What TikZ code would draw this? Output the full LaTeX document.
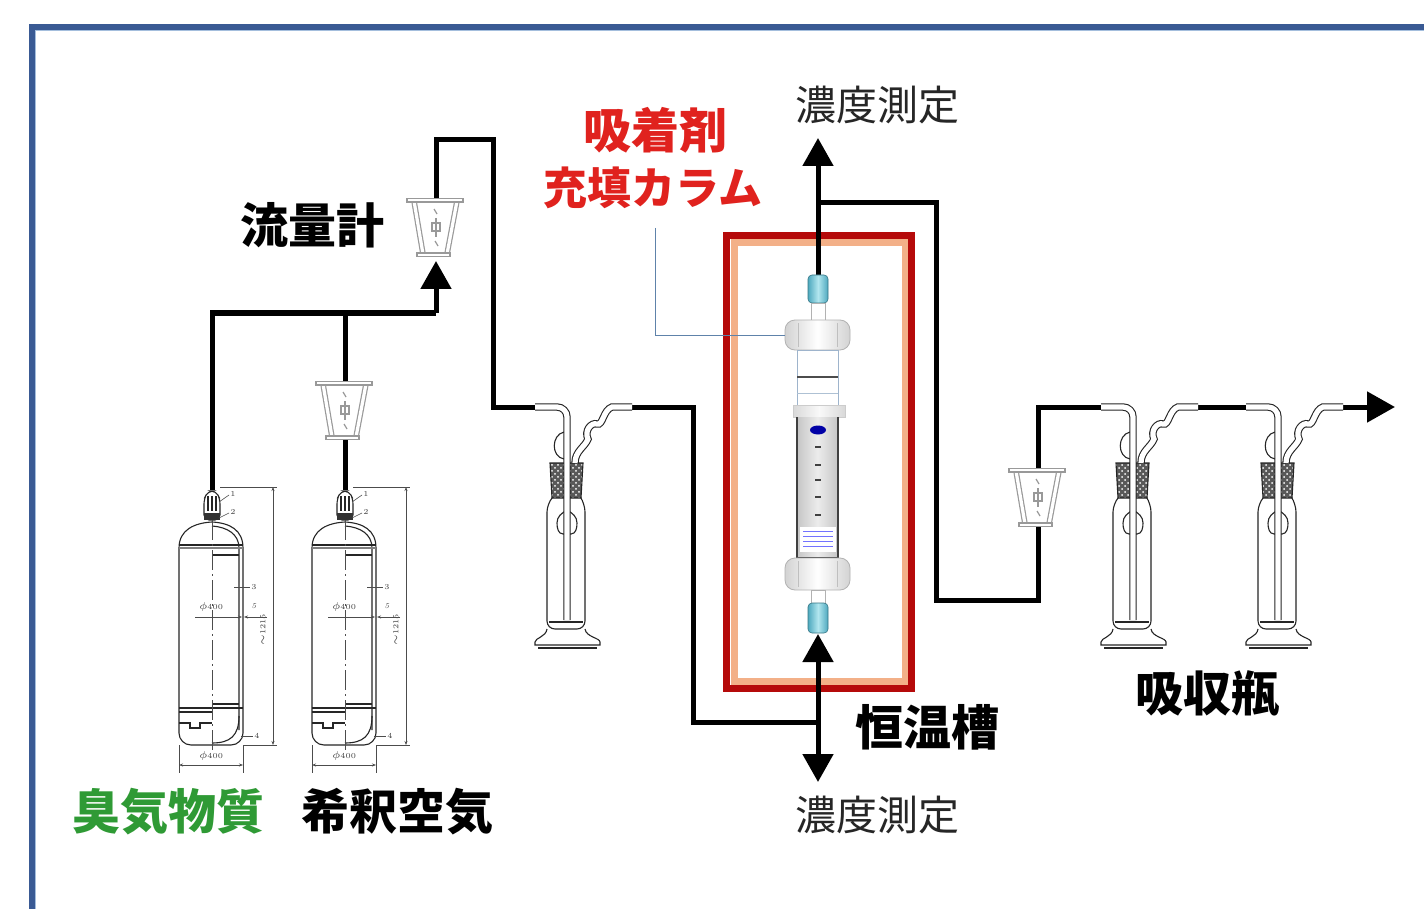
\documentclass[tikz,border=0pt]{standalone}
\usepackage{fontspec}
\newfontfamily\cjk{Noto Sans CJK JP}
\usetikzlibrary{arrows.meta,patterns,calc}

\definecolor{frameblue}{HTML}{3A5A94}
\definecolor{framelight}{HTML}{A4BEDD}
\definecolor{ovenred}{HTML}{B50A0A}
\definecolor{ovenpeach}{HTML}{F3B088}
\definecolor{titlered}{HTML}{E0221E}
\definecolor{odorgreen}{HTML}{2F9A35}
\definecolor{leaderblue}{HTML}{5E82AA}
\definecolor{fitting}{HTML}{4EA9BE}
\definecolor{fittinglight}{HTML}{B2E6EF}

\tikzset{
  pipe/.style={line width=2.5pt, black},
  flowtip/.style={-{Triangle[length=14pt,width=15pt]}},
  glass/.style={line width=0.55pt, black!85},
  tube/.style={line width=0.55pt, black!85, double=white, double distance=2.6pt},
  dim/.style={line width=0.3pt, black!70},
  dimtxt/.style={font=\fontsize{3.8}{4}\selectfont, inner sep=0pt, text=black!75},
  fmline/.style={line width=0.6pt, black!40},
  fmwall/.style={line width=0.6pt, black!40, double=white, double distance=1.6pt},
  boldlbl/.style={font=\cjk\bfseries\fontsize{24}{26}\selectfont, inner sep=0pt},
  plainlbl/.style={font=\cjk\fontsize{20.5}{22}\selectfont, inner sep=0pt, text=black!85},
  capstyle/.style={left color=gray!35, right color=gray!35, middle color=white, draw=gray!60, line width=0.4pt, rounded corners=5},
  fitstyle/.style={left color=fitting, right color=fitting, middle color=fittinglight, draw=fitting!70!black, line width=0.3pt, rounded corners=2},
  % gas cylinder, origin at the top of the valve
  gascyl/.pic={
    \draw[glass, fill=white, rounded corners=2.5] (-8,30) -- (-8,9) -- (-4,1) -- (4,1) -- (8,9) -- (8,30) -- cycle;
    \fill[black!80] (-8,23) rectangle (8,30);
    \foreach \u in {-4,0,4} \draw[glass] (\u,6) -- (\u,21);
    \draw[glass] (-33,58) .. controls (-33,40) and (-18,33) .. (0,32) .. controls (18,33) and (31,40) .. (31,58);
    \draw[glass, rounded corners=6] (-33,58) -- (-33,255) -- (31,255) -- (31,58);
    \draw[glass] (0,36) .. controls (15,37) and (27,44) .. (27,58) -- (27,240);
    \draw[glass] (-33,55) -- (31,55);
    \draw[glass, black!50] (-33,58) -- (31,58);
    \draw[glass] (0,65) -- (27,65);
    \draw[glass] (-33,218) -- (31,218);
    \draw[glass] (-33,222) -- (0,222);
    \draw[glass] (0,214) -- (27,214);
    \draw[glass] (-33,233) -- (-22,233) -- (-22,238) -- (-12,238) -- (-12,233) -- (0,233);
    \draw[glass] (0,253) .. controls (18,253) and (27,246) .. (27,226);
    \draw[dim, dash pattern=on 10pt off 2pt on 1pt off 2pt] (0,30) -- (0,262);
    % dimensions
    \draw[dim] (8,-3) -- (65,-3) (31,255) -- (65,255);
    \draw[dim, {Stealth[length=2pt]}-{Stealth[length=2pt]}] (61,-3) -- (61,255);
    \node[dimtxt, rotate=90] at (51,140) {$\sim$1215};
    \draw[dim, -{Stealth[length=2pt]}] (-17,127) -- (30,127);
    \draw[dim, -{Stealth[length=2pt]}] (55,127) -- (32,127);
    \node[dimtxt] at (-1,117) {$\phi$400};
    \node[dimtxt] at (42,116) {\itshape 5};
    \draw[dim] (-33,255) -- (-33,283) (31,255) -- (31,283);
    \draw[dim, {Stealth[length=2pt]}-{Stealth[length=2pt]}] (-33,275) -- (31,275);
    \node[dimtxt] at (-1,266) {$\phi$400};
    % item numbers
    \draw[dim] (7,12) -- (17,5);  \node[dimtxt] at (21,4) {1};
    \draw[dim] (7,28) -- (17,23); \node[dimtxt] at (21,22) {2};
    \draw[dim] (22,97) -- (38,97); \node[dimtxt] at (42,97) {3};
    \draw[dim] (29,246) -- (41,246); \node[dimtxt] at (45,246) {4};
  },
  % float flowmeter, origin at the centre of the top bar
  flowmeter/.pic={
    \draw[fmwall] (-22,1) -- (-13,54);
    \draw[fmwall] (21,1) -- (11,54);
    \draw[fmline, fill=white] (-29,-1.5) rectangle (27,2);
    \draw[fmline, fill=white] (-19,53) rectangle (14,56.5);
    \draw[fmline] (-2,9) -- (1,14) (-1,41) -- (2,46);
    \draw[fmline] (-4,23) rectangle (4,31);
    \draw[fmline] (0,18) -- (0,37);
  },
  % gas washing bottle, origin at the inner tube on the level of the inlet
  washbottle/.pic={
    \fill[black!65] (-17,56) -- (16,56) -- (14,91) -- (-15,91) -- cycle;
    \fill[pattern=crosshatch dots, pattern color=white] (-17,56) -- (16,56) -- (14,91) -- (-15,91) -- cycle;
    \draw[glass] (-17,56) -- (16,56) -- (14,91) -- (-15,91) -- cycle;
    \draw[glass, rounded corners=4] (-15,91) -- (-20,97) -- (-20,222) -- (18,222) -- (18,97) -- (14,91);
    \draw[glass] (-20,222) .. controls (-21,230) and (-32,231) .. (-32,235) -- (-32,238) -- (33,238) -- (33,235) .. controls (33,231) and (19,230) .. (18,222);
    \draw[glass] (-29,241) -- (30,241);
    \draw[glass] (-18,215) -- (16,215);
    \draw[glass] (0,103) to[out=210,in=90] (-10,116) to[out=-90,in=180] (-4,127) -- (4,127) to[out=0,in=-90] (10,116) to[out=90,in=-30] (0,103);
    \draw[glass] (-3,52) .. controls (-16,50) and (-16,28) .. (-3,25);
    \draw[tube, rounded corners=5] (-32,0) -- (0,0) -- (0,213);
    \draw[tube] (8,56) .. controls (8,44) and (18,40) .. (21,32) .. controls (17,24) and (24,15) .. (30,17) .. controls (36,19) and (36,3) .. (45,0) -- (65,0);
  }
}

\begin{document}
\begin{tikzpicture}[x=0.5pt, y=-0.5pt]
\useasboundingbox (0,0) rectangle (1424,909);
\fill[white] (0,0) rectangle (1424,909);

% outer frame
\draw[frameblue, line width=3pt] (32,940) -- (32,27) -- (1450,27);
\draw[framelight, line width=0.8pt] (35.5,940) -- (35.5,30.5) -- (1450,30.5);

% thermostatic oven
\draw[ovenpeach, line width=3.5pt] (734,243) rectangle (905,681);
\draw[ovenred, line width=3.5pt] (726.5,236) rectangle (911.5,688.5);

% port coordinates
\coordinate (cylA) at (212,490);
\coordinate (cylB) at (345,490);
\coordinate (jct) at (436,313);
\coordinate (fmA-in) at (436,261);
\coordinate (fmA-out) at (436,200);
\coordinate (fmB-in) at (345,439);
\coordinate (fmB-out) at (345,383);
\coordinate (turnA) at (493,140);
\coordinate (botA-in) at (535,407);
\coordinate (botA-out) at (632,407);
\coordinate (turnB) at (693,722);
\coordinate (tee) at (818,722);
\coordinate (col-in) at (818,634);
\coordinate (col-out) at (818,276);
\coordinate (meas-low) at (818,782);
\coordinate (meas-up) at (818,138);
\coordinate (branch) at (818,203);
\coordinate (turnC) at (936,600);
\coordinate (fmC-in) at (1038,525);
\coordinate (fmC-out) at (1038,470);
\coordinate (botB-in) at (1101,407);
\coordinate (botB-out) at (1198,407);
\coordinate (botC-in) at (1246,407);
\coordinate (botC-out) at (1343,407);
\coordinate (exit) at (1395,407);

% piping
\draw[pipe] (cylA) |- (jct);
\draw[pipe, flowtip] (jct) -- (fmA-in);
\draw[pipe] (cylB) -- (fmB-in);
\draw[pipe] (fmB-out) -- (fmB-out |- jct);
\draw[pipe] (fmA-out) |- (turnA) |- (botA-in);
\draw[pipe] (botA-out) -| (turnB) -- (tee);
\draw[pipe, flowtip] (tee) -- (col-in);
\draw[pipe, flowtip] (tee) -- (meas-low);
\draw[pipe, flowtip] (col-out) -- (meas-up);
\draw[pipe] (branch) -| (turnC) -| (fmC-in);
\draw[pipe] (fmC-out) |- (botB-in);
\draw[pipe] (botB-out) -- (botC-in);
\draw[pipe, flowtip] (botC-out) -- (exit);

% gas cylinders, flowmeters and absorption bottles
\pic at (cylA) {gascyl};
\pic at (cylB) {gascyl};
\pic at (fmA-out) {flowmeter};
\pic at (fmB-out) {flowmeter};
\pic at (fmC-out) {flowmeter};
\pic at (567,407) {washbottle};
\pic at (1133,407) {washbottle};
\pic at (1278,407) {washbottle};

% adsorbent column
\shade[fitstyle] (808,275) rectangle (828,303);
\draw[gray!60, fill=white, line width=0.4pt] (811,303) rectangle (825,320);
\shade[capstyle] (785,320) rectangle (850,350);
\draw[gray!50, line width=0.4pt] (798,323) -- (798,347) (837,323) -- (837,347);
\draw[leaderblue!60, fill=white, line width=0.5pt] (797,350) rectangle (838,405);
\draw[black!70, line width=1.2pt] (797,377) -- (838,377);
\draw[leaderblue!50, line width=0.5pt] (797,393) -- (838,393);
\shade[left color=gray!30, right color=gray!30, middle color=gray!5, draw=gray!40, line width=0.3pt] (793,405) rectangle (845,417);
\shade[left color=gray!45, right color=gray!45, middle color=gray!15] (797,417) rectangle (838,558);
\draw[black!75, line width=0.8pt] (797,417) -- (797,558) -- (838,558) -- (838,417);
\fill[blue!65!black] (818,430) ellipse (8 and 4.5);
\foreach \t in {447,465,480,497,515}
  \draw[black!75, line width=1pt] (815,\t) -- (821,\t);
\fill[white] (800,527) rectangle (836,552);
\foreach \t in {531,536,541,546}
  \draw[blue!55, line width=0.4pt] (803,\t) -- (833,\t);
\shade[capstyle] (785,558) rectangle (850,590);
\draw[gray!50, line width=0.4pt] (798,561) -- (798,587) (837,561) -- (837,587);
\draw[gray!60, fill=white, line width=0.4pt] (811,590) rectangle (825,603);
\shade[fitstyle] (808,603) rectangle (828,633);

% labels
\coordinate (leader-top) at (655,228);
\coordinate (col-cap) at (785,335);
\draw[leaderblue, line width=0.5pt] (leader-top) |- (col-cap);
\node[boldlbl, text=titlered] (lblAds) at (655,130) {吸着剤};
\node[boldlbl, text=titlered, font=\cjk\bfseries\fontsize{22}{24}\selectfont] (lblCol) at (653,188) {充填カラム};
\node[boldlbl] (lblFlow) at (312,225) {流量計};
\node[plainlbl] (lblMeasUp) at (877,105) {濃度測定};
\node[plainlbl] (lblMeasLow) at (877,815) {濃度測定};
\node[boldlbl] (lblOven) at (927,727) {恒温槽};
\node[boldlbl] (lblAbs) at (1207,693) {吸収瓶};
\node[boldlbl, text=odorgreen] (lblOdor) at (168,812) {臭気物質};
\node[boldlbl] (lblDil) at (397,812) {希釈空気};
\end{tikzpicture}
\end{document}
